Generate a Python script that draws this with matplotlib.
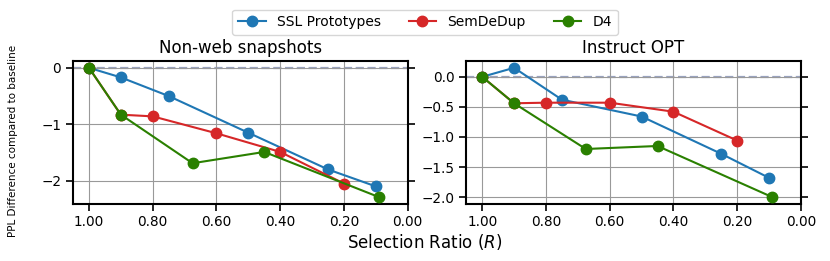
import numpy as np
import matplotlib
matplotlib.use('Agg')
import matplotlib.pyplot as plt

# data
titles = ['Non-web snapshots', 'Instruct OPT']

ssl_x = [1.0, 0.9, 0.75, 0.5, 0.25, 0.1]
sem_x = [1.0, 0.9, 0.8, 0.6, 0.4, 0.2]
d4_x = [1.0, 0.9, 0.675, 0.45, 0.09]

ssl_nonweb = [0.0, -0.17, -0.5, -1.15, -1.8, -2.1]
sem_nonweb = [0.0, -0.83, -0.86, -1.16, -1.49, -2.05]
d4_nonweb = [0.0, -0.83, -1.69, -1.49, -2.29]

ssl_opt = [0.0, 0.15, -0.38, -0.66, -1.28, -1.68]
sem_opt = [0.0, -0.44, -0.43, -0.43, -0.58, -1.06]
d4_opt = [0.0, -0.44, -1.2, -1.15, -2.0]

xticks = [1.0, 0.8, 0.6, 0.4, 0.2, 0.0]

fig, axes = plt.subplots(1, 2, figsize=(8.3, 2.61), dpi=100)
fig.subplots_adjust(left=0.088, right=0.965, top=0.765, bottom=0.22, wspace=0.175)

series = [
    (ssl_nonweb, sem_nonweb, d4_nonweb),
    (ssl_opt, sem_opt, d4_opt),
]

for ax, title, (ssl, sem, d4) in zip(axes, titles, series):
    ax.grid(True, color='#999999', lw=0.8, zorder=0)
    ax.axhline(0, color='#9aa3c0', ls='--', lw=1.6, zorder=1)
    ax.plot(ssl_x, ssl, '-o', color='#1f77b4', ms=7.5, lw=1.5, label='SSL Prototypes', zorder=3)
    ax.plot(sem_x, sem, '-o', color='#d62728', ms=7.5, lw=1.5, label='SemDeDup', zorder=3)
    ax.plot(d4_x, d4, '-o', color='#2a8000', ms=7.5, lw=1.5, label='D4', zorder=4)
    ax.set_xlim(1.05, 0.0)
    ax.set_xticks(xticks)
    ax.set_xticklabels([f'{t:.2f}' for t in xticks])
    ax.set_title(title, fontsize=12)
    ax.tick_params(axis='both', labelsize=9.8, width=1.2, length=5)
    ax.tick_params(axis='y', right=True)
    for s in ax.spines.values():
        s.set_linewidth(1.5)

axes[1].set_yticks([0.0, -0.5, -1.0, -1.5, -2.0])

fig.text(0.016, 0.46, 'PPL Difference compared to baseline', rotation=90,
         fontsize=7.5, ha='center', va='center')
fig.text(0.512, 0.035, 'Selection Ratio ($R$)', fontsize=12, ha='center', va='bottom')

handles, labels = axes[0].get_legend_handles_labels()
fig.legend(handles, labels, loc='upper center', ncol=3, fontsize=10,
           bbox_to_anchor=(0.512, 0.99), columnspacing=2.0)

fig.savefig('out.png', dpi=100)
